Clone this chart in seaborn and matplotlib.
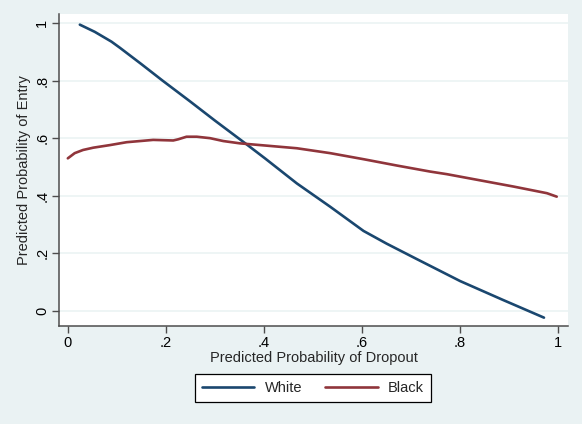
import matplotlib
matplotlib.use("Agg")
import matplotlib.pyplot as plt
from matplotlib.lines import Line2D
import pandas as pd
import seaborn as sns

# Predicted probability of entry against predicted probability of dropout
white_x = [0.0245, 0.055, 0.089, 0.106, 0.150, 0.193, 0.249, 0.30, 0.365, 0.402,
           0.467, 0.535, 0.603, 0.65, 0.712, 0.80, 0.888, 0.971]
white_y = [0.994, 0.969, 0.935, 0.914, 0.857, 0.800, 0.728, 0.661, 0.578, 0.530,
           0.443, 0.362, 0.278, 0.234, 0.180, 0.104, 0.038, -0.023]

black_x = [0.0, 0.014, 0.031, 0.052, 0.086, 0.120, 0.154, 0.174, 0.215, 0.225,
           0.242, 0.263, 0.290, 0.317, 0.351, 0.392, 0.467, 0.535, 0.603, 0.671,
           0.739, 0.773, 0.909, 0.977, 0.997]
black_y = [0.530, 0.548, 0.559, 0.567, 0.576, 0.586, 0.591, 0.594, 0.592, 0.596,
           0.605, 0.605, 0.600, 0.590, 0.582, 0.576, 0.565, 0.548, 0.527, 0.505,
           0.484, 0.475, 0.432, 0.409, 0.397]

x_ticks = [0, 0.2, 0.4, 0.6, 0.8, 1.0]
x_tick_labels = ["0", ".2", ".4", ".6", ".8", "1"]
y_ticks = [0, 0.2, 0.4, 0.6, 0.8, 1.0]
y_tick_labels = ["0", ".2", ".4", ".6", ".8", "1"]

df = pd.concat([
    pd.DataFrame({"dropout": white_x, "entry": white_y, "group": "White"}),
    pd.DataFrame({"dropout": black_x, "entry": black_y, "group": "Black"}),
], ignore_index=True)

sns.set_theme(style="white")
plt.rcParams["font.family"] = ["Liberation Sans", "DejaVu Sans"]
plt.rcParams["font.size"] = 10.5

bg = "#eaf2f3"
axis_col = "#4d4d4d"
colors = {"White": "#1a476f", "Black": "#90353b"}

fig = plt.figure(figsize=(5.82, 4.24), dpi=100, facecolor=bg)
ax = fig.add_axes([59 / 582, 1 - 326 / 424, (568 - 59) / 582, (326 - 14) / 424])
ax.set_facecolor("white")

sns.lineplot(data=df, x="dropout", y="entry", hue="group", palette=colors,
             estimator=None, sort=False, linewidth=1.9, ax=ax, legend=False)

ax.set_xlim(-0.018, 1.02)
ax.set_ylim(-0.052, 1.031)

for yt in y_ticks:
    ax.axhline(yt, color=bg, lw=1.1, zorder=0)

ax.set_xticks(x_ticks)
ax.set_xticklabels(x_tick_labels, fontsize=10.5)
ax.set_yticks(y_ticks)
ax.set_yticklabels(y_tick_labels, fontsize=10.5, rotation=90, va="center")

for side in ("top", "right"):
    ax.spines[side].set_visible(False)
for side in ("left", "bottom"):
    ax.spines[side].set_color(axis_col)
    ax.spines[side].set_linewidth(1.1)

ax.tick_params(axis="both", direction="out", length=5, width=1.0,
               color=axis_col, labelcolor="black", pad=2,
               bottom=True, left=True)

ax.set_xlabel("Predicted Probability of Dropout", fontsize=10.5, labelpad=1)
ax.set_ylabel("Predicted Probability of Entry", fontsize=10.5, labelpad=3)

handles = [Line2D([], [], color=colors["White"], lw=1.9),
           Line2D([], [], color=colors["Black"], lw=1.9)]
leg = fig.legend(handles, ["White", "Black"], loc="center",
                 bbox_to_anchor=(313 / 582, 1 - 388 / 424), ncol=2,
                 frameon=True, fancybox=False, edgecolor="black",
                 facecolor="white", framealpha=1, fontsize=10.5,
                 handlelength=3.6, handletextpad=0.7, columnspacing=1.6,
                 borderpad=0.45)
leg.get_frame().set_linewidth(0.9)

fig.savefig("out.png", dpi=100, facecolor=bg)
